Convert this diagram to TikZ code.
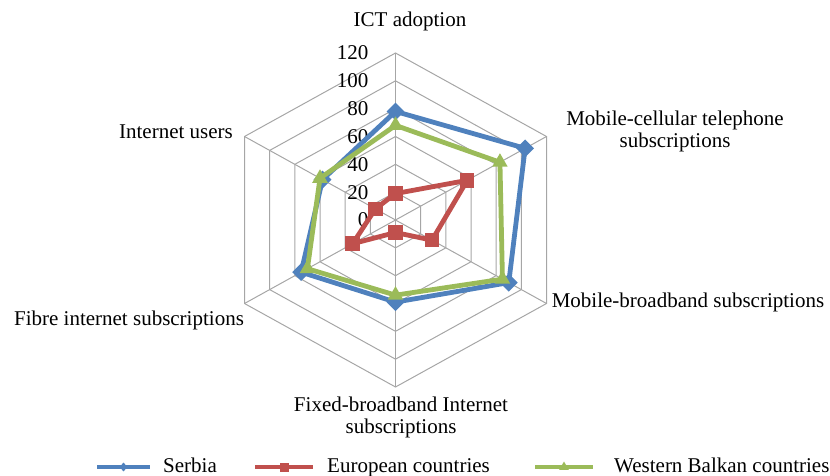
\documentclass[tikz,border=0pt]{standalone}
\usepackage{fontspec}
\setmainfont{Liberation Serif}
\usetikzlibrary{calc,shapes.geometric}
\definecolor{serb}{HTML}{4F81BD}
\definecolor{euro}{HTML}{C0504D}
\definecolor{wbal}{HTML}{9BBB59}
\definecolor{gridc}{HTML}{A6A6A6}
\begin{document}
\begin{tikzpicture}[x=1pt,y=1pt,
  gridline/.style={draw=gridc,line width=1pt},
  lbl/.style={font=\fontsize{21}{22}\selectfont, inner sep=0pt, align=center},
  serline/.style={draw=serb,line width=4.8pt,line join=round},
  eurline/.style={draw=euro,line width=4.8pt,line join=round},
  wbaline/.style={draw=wbal,line width=4.8pt,line join=round},
  dmark/.style={diamond, fill=serb, inner sep=0pt, minimum width=18pt, minimum height=18pt},
  smark/.style={rectangle, fill=euro, inner sep=0pt, minimum size=14.5pt},
  tmark/.style={regular polygon, regular polygon sides=3, fill=wbal, inner sep=0pt, minimum size=18pt},
  dleg/.style={diamond, fill=serb, inner sep=0pt, minimum width=8pt, minimum height=9pt},
  sleg/.style={rectangle, fill=euro, inner sep=0pt, minimum size=9pt},
  tleg/.style={regular polygon, regular polygon sides=3, fill=wbal, inner sep=0pt, minimum size=11pt},
]
\useasboundingbox (0,0) rectangle (830,475);
\coordinate (C) at (395.5,255);
\coordinate (O1) at (395.5,422);
\coordinate (O2) at (546.5,338.5);
\coordinate (O3) at (546.5,171.5);
\coordinate (O4) at (395.5,88);
\coordinate (O5) at (244.5,171.5);
\coordinate (O6) at (244.5,338.5);
% grid
\foreach \k in {1,...,6}
  \draw[gridline] ($(C)!\k/6!(O1)$) -- ($(C)!\k/6!(O2)$) -- ($(C)!\k/6!(O3)$)
    -- ($(C)!\k/6!(O4)$) -- ($(C)!\k/6!(O5)$) -- ($(C)!\k/6!(O6)$) -- cycle;
\foreach \i in {1,...,6}
  \draw[gridline] (C) -- (O\i);
% axis values
\foreach \k/\t in {0/0,1/20,2/40,3/60,4/80,5/100,6/120}
  \node[lbl, anchor=east] (v\k) at ($(C)!\k/6!(O1) + (-27,0)$) {\t};
% data points
\foreach \v [count=\i] in {78,103,90,59,75,58}
  \coordinate (b\i) at ($(C)!\v/120!(O\i)$);
\foreach \v [count=\i] in {19,57,29,9,34,16}
  \coordinate (r\i) at ($(C)!\v/120!(O\i)$);
\foreach \v [count=\i] in {68,83,85,54,70,60}
  \coordinate (g\i) at ($(C)!\v/120!(O\i)$);
% series
\draw[serline] (b1) -- (b2) -- (b3) -- (b4) -- (b5) -- (b6) -- cycle;
\foreach \i in {1,...,6} \node[dmark] (bm\i) at (b\i) {};
\draw[eurline] (r1) -- (r2) -- (r3) -- (r4) -- (r5) -- (r6) -- cycle;
\foreach \i in {1,...,6} \node[smark] (rm\i) at (r\i) {};
\draw[wbaline] (g1) -- (g2) -- (g3) -- (g4) -- (g5) -- (g6) -- cycle;
\foreach \i in {1,...,6} \node[tmark] (gm\i) at (g\i) {};
% category labels
\node[lbl] (ict) at (410,454) {ICT adoption};
\node[lbl] (mct) at (675,344) {Mobile-cellular telephone\\subscriptions};
\node[lbl] (mbb) at (688,173) {Mobile-broadband subscriptions};
\node[lbl] (fbb) at (401,58) {Fixed-broadband Internet\\subscriptions};
\node[lbl] (fib) at (129,155) {Fibre internet subscriptions};
\node[lbl] (iu) at (176,343) {Internet users};
% legend
\coordinate (la1) at (97,8); \coordinate (lb1) at (150,8);
\coordinate (la2) at (255,8); \coordinate (lb2) at (313,8);
\coordinate (la3) at (535,8); \coordinate (lb3) at (593,8);
\draw[serline, line width=4pt] (la1) -- (lb1);
\node[dleg] (lm1) at ($(la1)!0.5!(lb1)$) {};
\node[lbl, anchor=base west] (lt1) at (163,3) {Serbia};
\draw[eurline, line width=4pt] (la2) -- (lb2);
\node[sleg] (lm2) at ($(la2)!0.5!(lb2)$) {};
\node[lbl, anchor=base west] (lt2) at (327,3) {European countries};
\draw[wbaline, line width=4pt] (la3) -- (lb3);
\node[tleg] (lm3) at ($(la3)!0.5!(lb3)$) {};
\node[lbl, anchor=base west] (lt3) at (614,3) {Western Balkan countries};
\end{tikzpicture}
\end{document}
